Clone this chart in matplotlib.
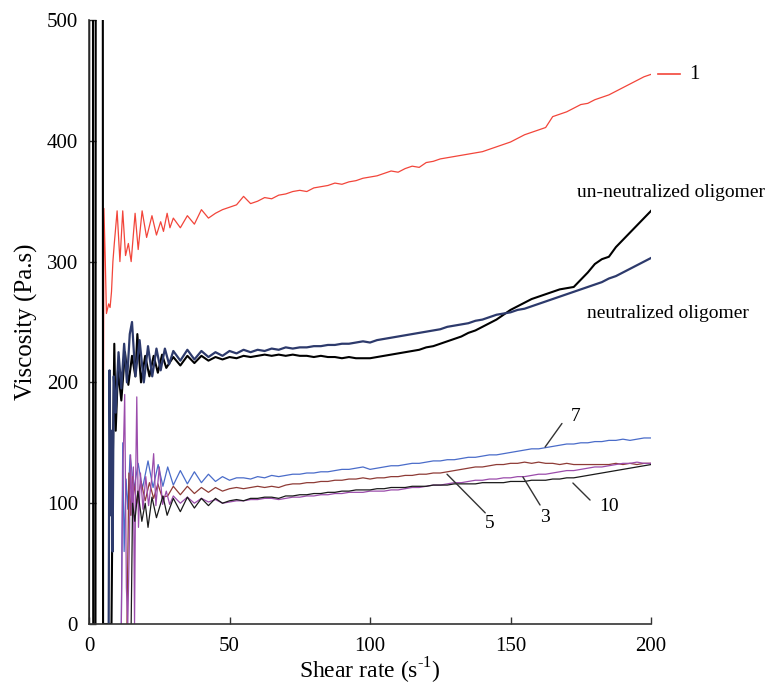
import matplotlib.pyplot as plt

plt.rcParams['font.family'] = ['Liberation Serif', 'DejaVu Serif']
plt.rcParams['mathtext.fontset'] = 'custom'
plt.rcParams['mathtext.rm'] = 'Liberation Serif'

# ---- data ----
# shared shear-rate grid for the smooth part (30 .. 200)
x_tail = [30, 32.5, 35, 37.5, 40, 42.5, 45, 47.5, 50, 52.5,
          55, 57.5, 60, 62.5, 65, 67.5, 70, 72.5, 75, 77.5,
          80, 82.5, 85, 87.5, 90, 92.5, 95, 97.5, 100, 102.5,
          105, 107.5, 110, 112.5, 115, 117.5, 120, 122.5, 125, 127.5,
          130, 132.5, 135, 137.5, 140, 142.5, 145, 147.5, 150, 152.5,
          155, 157.5, 160, 162.5, 165, 167.5, 170, 172.5, 175, 177.5,
          180, 182.5, 185, 187.5, 190, 192.5, 195, 197.5, 200]

# curve 1
x1_head = [5.0, 5.3, 5.8, 6.2, 7.0, 7.5, 8.0, 8.5, 9.0, 10.0, 11.0, 12.0, 13.0, 14.0,
           15.0, 16.4, 17.5, 18.9, 20.5, 22.4, 24.0, 25.5, 26.5, 27.8, 28.8]
y1_head = [0, 344, 300, 257, 265, 262, 275, 300, 315, 342, 300, 342, 305, 315,
           300, 340, 310, 342, 320, 338, 322, 333, 325, 340, 328]
y1_tail = [336, 328, 338, 331, 343, 336, 340, 343, 345, 347,
           354, 348, 350, 353, 352, 355, 356, 358, 359, 358,
           361, 362, 363, 365, 364, 366, 367, 369, 370, 371,
           373, 375, 374, 377, 379, 378, 382, 383, 385, 386,
           387, 388, 389, 390, 391, 393, 395, 397, 399, 402,
           405, 407, 409, 411, 420, 422, 424, 427, 430, 431,
           434, 436, 438, 441, 444, 447, 450, 453, 455]

# un-neutralized oligomer
x_un_head = [0.0, 0.1, 1.4, 1.5, 2.3, 2.4, 4.9, 5.0, 8.0, 8.5, 9.0, 9.5, 10.3, 11.5,
             12.8, 14.0, 15.3, 16.5, 17.2, 18.5, 20.0, 21.5, 23.0, 24.5, 26.0, 27.5]
y_un_head = [0, 600, 600, 0, 0, 600, 600, 0, 0, 140, 232, 160, 210, 185,
             225, 198, 222, 205, 240, 200, 222, 205, 222, 208, 223, 212]
y_un_tail = [221, 214, 222, 216, 222, 218, 221, 219, 221, 220,
             222, 221, 222, 223, 222, 223, 222, 223, 222, 222,
             221, 222, 221, 221, 220, 221, 220, 220, 220, 221,
             222, 223, 224, 225, 226, 227, 229, 230, 232, 234,
             236, 238, 241, 243, 246, 249, 252, 256, 260, 263,
             266, 269, 271, 273, 275, 277, 278, 279, 285, 291,
             298, 302, 304, 312, 318, 324, 330, 336, 342]

# neutralized oligomer
x_ne_head = [7.0, 7.3, 7.7, 8.0, 8.4, 8.8, 9.5, 10.5, 11.5, 12.5, 13.5, 14.5, 15.3,
             16.5, 18.0, 19.5, 21.0, 22.5, 24.0, 25.5, 27.0, 28.5]
y_ne_head = [0, 210, 90, 160, 60, 205, 175, 225, 195, 232, 200, 240, 250,
             205, 235, 200, 230, 205, 228, 210, 228, 215]
y_ne_tail = [226, 218, 227, 219, 226, 221, 225, 222, 226, 224,
             227, 225, 227, 226, 228, 227, 229, 228, 229, 229,
             230, 230, 231, 231, 232, 232, 233, 234, 233, 235,
             236, 237, 238, 239, 240, 241, 242, 243, 244, 246,
             247, 248, 249, 251, 252, 254, 256, 257, 258, 260,
             261, 263, 265, 267, 269, 271, 273, 275, 277, 279,
             281, 283, 286, 288, 291, 294, 297, 300, 303]

# curve 7
x7_head = [11.5, 12.0, 12.5, 13.2, 13.8, 14.6, 16.0, 17.5, 19.0, 21.0, 22.8, 24.6,
           26.3, 28.0]
y7_head = [0, 150, 60, 120, 95, 140, 112, 133, 112, 135, 113, 132, 114, 130]
y7_tail = [115, 127, 116, 126, 117, 124, 118, 122, 119, 121,
           121, 120, 122, 121, 123, 122, 123, 124, 124, 125,
           125, 126, 126, 127, 128, 128, 129, 130, 128, 129,
           130, 131, 131, 132, 133, 133, 134, 135, 135, 136,
           136, 137, 138, 138, 139, 140, 140, 141, 142, 143,
           144, 145, 145, 146, 147, 148, 149, 149, 150, 150,
           151, 151, 152, 152, 153, 152, 153, 154, 154]

# curve 5
x5_head = [13.5, 14.2, 14.8, 15.5, 17.0, 18.5, 20.0, 21.5, 23.0, 24.5, 26.0, 28.0]
y5_head = [0, 125, 90, 122, 100, 118, 102, 117, 104, 116, 105, 106]
y5_tail = [114, 107, 114, 108, 113, 109, 113, 110, 112, 113,
           112, 113, 114, 113, 114, 113, 115, 116, 116, 117,
           117, 118, 118, 119, 119, 120, 120, 121, 120, 121,
           121, 122, 122, 123, 123, 124, 124, 125, 125, 126,
           127, 128, 129, 130, 130, 131, 132, 132, 133, 133,
           134, 133, 134, 133, 133, 132, 133, 132, 132, 132,
           132, 132, 132, 133, 132, 133, 132, 133, 133]

# curve 3
x3_head = [11.5, 12.0, 12.7, 13.3, 13.8, 14.3, 14.8, 15.3, 15.8, 16.2, 16.6, 17.0,
           17.6, 18.3, 19.2, 20.2, 21.2, 22.2, 23.0, 23.8, 25.0, 26.2, 27.5, 28.7]
y3_head = [0, 120, 190, 30, 0, 60, 140, 90, 130, 0, 120, 188,
           80, 125, 95, 122, 98, 118, 141, 98, 130, 99, 110, 99]
y3_tail = [106, 100, 105, 100, 104, 101, 103, 100, 101, 102,
           102, 103, 103, 104, 104, 103, 104, 105, 105, 106,
           106, 107, 107, 108, 108, 109, 109, 109, 110, 110,
           110, 111, 111, 112, 113, 113, 114, 115, 115, 116,
           117, 117, 118, 119, 119, 120, 120, 121, 121, 122,
           122, 123, 124, 124, 125, 126, 127, 127, 128, 129,
           130, 130, 131, 132, 133, 133, 134, 133, 133]

# curve 10
x10_head = [15.0, 15.5, 16.3, 17.4, 18.8, 20.0, 21.0, 22.4, 24.0, 26.3, 27.8]
y10_head = [0, 100, 85, 110, 85, 100, 80, 105, 88, 106, 90]
y10_tail = [104, 93, 105, 96, 104, 98, 104, 100, 102, 103,
            102, 104, 104, 105, 105, 104, 106, 106, 107, 107,
            108, 108, 109, 109, 110, 110, 111, 111, 111, 112,
            112, 113, 113, 113, 114, 114, 114, 115, 115, 115,
            116, 116, 116, 116, 117, 117, 117, 117, 118, 118,
            118, 119, 119, 119, 120, 120, 121, 121, 122, 123,
            124, 125, 126, 127, 128, 129, 130, 131, 132]

xticks = [0, 50, 100, 150, 200]
yticks = [0, 100, 200, 300, 400, 500]

# ---- figure ----
fig = plt.figure(figsize=(7.7, 6.87), dpi=100)
ax = fig.add_axes([0.1156, 0.0917, 0.7299, 0.8792])

thin = 0.9
ax.plot(x1_head + x_tail, y1_head + y1_tail, color='#f2453a', lw=thin)
ax.plot(x_un_head + x_tail, y_un_head + y_un_tail, color='black', lw=1.5)
ax.plot(x_ne_head + x_tail, y_ne_head + y_ne_tail, color='#2d3a6c', lw=1.6)
ax.plot(x7_head + x_tail, y7_head + y7_tail, color='#4a6cc9', lw=thin)
ax.plot(x5_head + x_tail, y5_head + y5_tail, color='#8e3b36', lw=thin)
ax.plot(x3_head + x_tail, y3_head + y3_tail, color='#9b4cab', lw=thin)
ax.plot(x10_head + x_tail, y10_head + y10_tail, color='#1a1a1a', lw=thin)

ax.set_xlim(0, 200)
ax.set_ylim(0, 500)
ax.set_xticks(xticks)
ax.set_yticks(yticks)
ax.tick_params(direction='in', length=5, width=1, colors='#333333',
               labelsize=15, labelcolor='black')
ax.tick_params(axis='x', pad=9)
ax.tick_params(axis='y', pad=8)
for s in ['top', 'right']:
    ax.spines[s].set_visible(False)
for s in ['left', 'bottom']:
    ax.spines[s].set_linewidth(1.2)
    ax.spines[s].set_color('#333333')

ax.set_xlabel('Shear rate (s$^{\\text{-1}}$)', fontsize=17, labelpad=0)
ax.set_ylabel('Viscosity (Pa.s)', fontsize=18, labelpad=6)

# curve labels
ax.plot([202.5, 210.3], [455, 455], color='#f2453a', lw=1.2, clip_on=False)
ax.text(213.5, 455, '1', fontsize=15, va='center', ha='left')
ax.text(207, 357, 'un-neutralized oligomer', fontsize=14, ha='center', va='center')
ax.text(206, 257, 'neutralized oligomer', fontsize=14, ha='center', va='center')

lead = dict(arrowstyle='-', color='#333333', lw=1, shrinkA=0, shrinkB=0)
ax.annotate('', xy=(162.3, 146.5), xytext=(168.3, 166), arrowprops=lead)
ax.text(173, 172, '7', fontsize=14, ha='center', va='center')
ax.annotate('', xy=(127.4, 124), xytext=(141, 92), arrowprops=lead)
ax.text(142.7, 83, '5', fontsize=14, ha='center', va='center')
ax.annotate('', xy=(154.4, 121.7), xytext=(160.5, 98.5), arrowprops=lead)
ax.text(162.3, 88, '3', fontsize=14, ha='center', va='center')
ax.annotate('', xy=(172.2, 116.7), xytext=(178.3, 102.6), arrowprops=lead)
ax.text(185, 97, '10', fontsize=14, ha='center', va='center')

fig.savefig('out.png', dpi=100)
